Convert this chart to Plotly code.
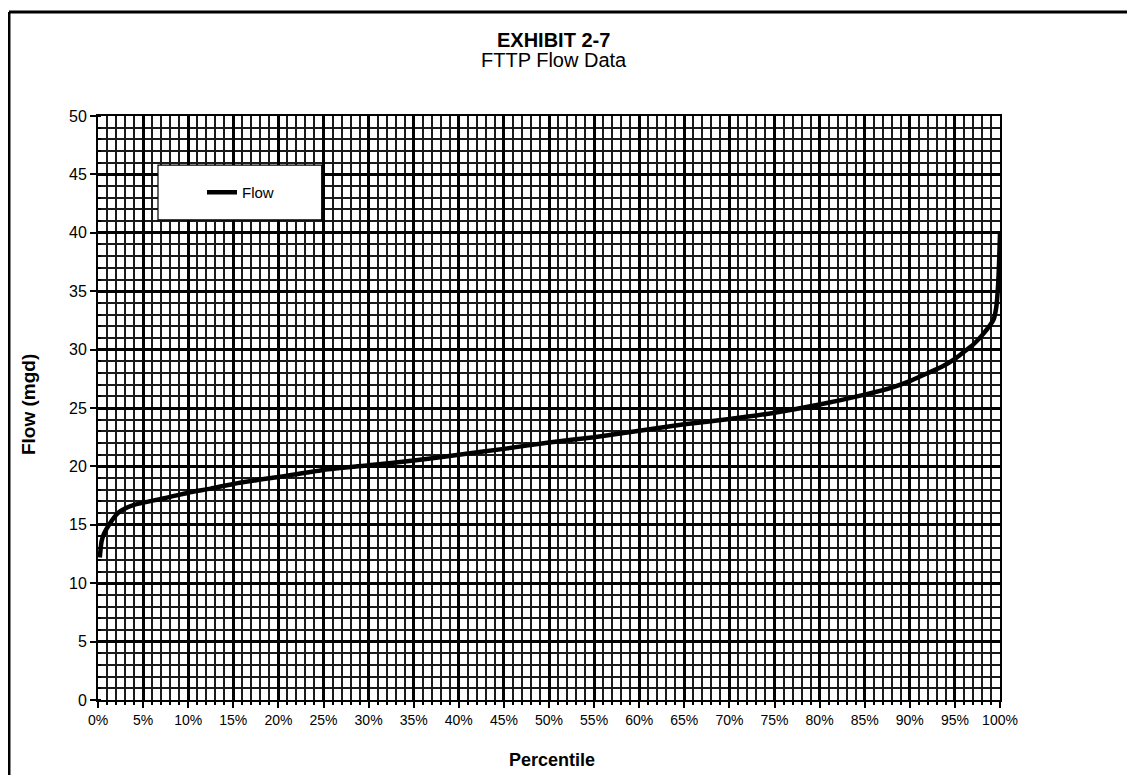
import plotly.graph_objects as go

# Percentile (%) vs flow (mgd)
percentile = [0.2, 0.4, 0.7, 1.3, 2.2, 3.0, 4.0, 5, 7.5, 10, 12.5, 15, 20, 25, 30,
              35, 40, 45, 50, 55, 60, 65, 70, 75, 80, 85, 88, 90, 92, 93.5,
              95, 96, 97, 98.1, 99.3, 99.6, 99.8, 99.9, 100]
flow = [12.2, 13.6, 14.3, 15.1, 16.0, 16.4, 16.7, 16.9, 17.3, 17.75, 18.1, 18.5, 19.1, 19.7, 20.1,
        20.5, 21.0, 21.5, 22.05, 22.5, 23.05, 23.6, 24.05, 24.6, 25.3, 26.15, 26.75, 27.3, 28.0, 28.5,
        29.2, 29.8, 30.4, 31.3, 32.6, 33.7, 35.7, 37.5, 40.0]

x_ticks = list(range(0, 101, 5))
x_tick_labels = [f"{v}%" for v in x_ticks]
y_ticks = list(range(0, 51, 5))

FONT = "Liberation Sans, Arial, sans-serif"

fig = go.Figure()
fig.add_trace(go.Scatter(
    x=percentile, y=flow, mode="lines", name="Flow",
    line=dict(color="black", width=4.5, shape="spline", smoothing=0.6),
))

axis_common = dict(
    showline=True, linecolor="black", linewidth=2, mirror=True,
    showgrid=True, gridcolor="black", gridwidth=3,
    ticks="outside", ticklen=6, tickcolor="black", tickwidth=2,
    zeroline=False,
)

fig.update_xaxes(
    range=[0, 100], tickvals=x_ticks, ticktext=x_tick_labels,
    tickfont=dict(family=FONT, size=14, color="black"),
    minor=dict(dtick=1, showgrid=True, gridcolor="#1a1a1a", gridwidth=1.6,
               ticks="outside", ticklen=3, tickcolor="black"),
    **axis_common,
)
fig.update_yaxes(
    range=[0, 50], tickvals=y_ticks,
    tickfont=dict(family=FONT, size=16, color="black"),
    minor=dict(dtick=1, showgrid=True, gridcolor="#1a1a1a", gridwidth=1.6,
               ticks="inside", ticklen=3, tickcolor="black"),
    **axis_common,
)

# legend box
fig.add_shape(type="rect", xref="paper", yref="paper",
              x0=0.0665, x1=0.248, y0=0.822, y1=0.916,
              fillcolor="white", line=dict(color="black", width=1.2), layer="above")
# page border (top and left)
fig.add_shape(type="line", xref="paper", yref="paper", x0=-0.0987, x1=1.2, y0=1.178, y1=1.178,
              line=dict(color="black", width=3))
fig.add_shape(type="line", xref="paper", yref="paper", x0=-0.0987, x1=-0.0987, y0=1.178, y1=-0.2,
              line=dict(color="black", width=3))

fig.add_annotation(text="<b>EXHIBIT 2-7</b>", xref="paper", yref="paper", x=0.505, y=1.130,
                   xanchor="center", yanchor="middle", showarrow=False,
                   font=dict(family=FONT, size=20, color="black"))
fig.add_annotation(text="FTTP Flow Data", xref="paper", yref="paper", x=0.505, y=1.096,
                   xanchor="center", yanchor="middle", showarrow=False,
                   font=dict(family=FONT, size=20, color="black"))
fig.add_annotation(text="<b>Percentile</b>", xref="paper", yref="paper", x=0.503, y=-0.1027,
                   xanchor="center", yanchor="middle", showarrow=False,
                   font=dict(family=FONT, size=18, color="black"))
fig.add_annotation(text="<b>Flow (mgd)</b>", xref="paper", yref="paper", x=-0.0776, y=0.505,
                   xanchor="center", yanchor="middle", textangle=-90, showarrow=False,
                   font=dict(family=FONT, size=19, color="black"))

fig.update_layout(
    width=1119, height=767,
    margin=dict(l=90, r=127, t=108, b=75),
    paper_bgcolor="white", plot_bgcolor="white",
    showlegend=True,
    legend=dict(x=0.1153, y=0.869, xanchor="left", yanchor="middle",
                bgcolor="rgba(0,0,0,0)", borderwidth=0,
                font=dict(family=FONT, size=15, color="black")),
)

fig.write_html("out.html")
